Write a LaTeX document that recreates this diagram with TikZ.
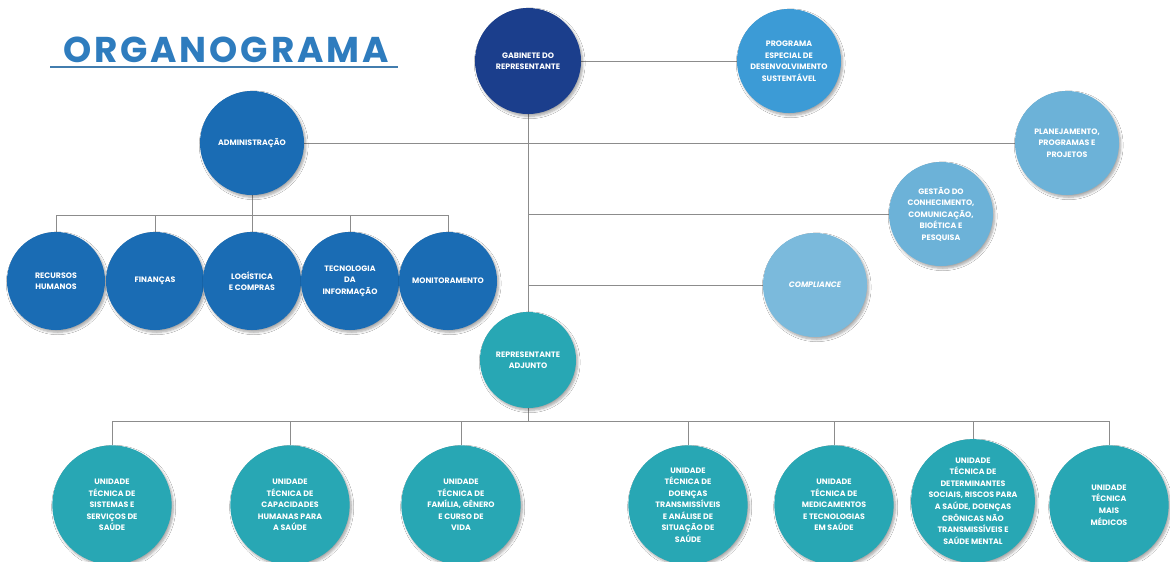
\documentclass[tikz,border=0pt]{standalone}
\usepackage{fontspec}
\newfontfamily\orgfont{Poppins}
\usetikzlibrary{shadows.blur,backgrounds}

\definecolor{navyblue}{RGB}{27,62,140}
\definecolor{midblue}{RGB}{26,108,180}
\definecolor{skyblue}{RGB}{60,155,214}
\definecolor{paleblue}{RGB}{108,178,216}
\definecolor{tealunit}{RGB}{40,167,180}
\definecolor{titleblue}{RGB}{46,124,190}
\definecolor{linegray}{RGB}{140,140,140}

\tikzset{
  org/.style={circle, inner sep=0pt, text=white, align=center,
    font=\orgfont\bfseries\fontsize{5.6}{8.2}\selectfont,
    blur shadow={shadow xshift=1.2pt, shadow yshift=-1.6pt,
      shadow opacity=35, shadow blur steps=6}},
  gabinete/.style={org, fill=navyblue, minimum size=2.65cm},
  programa/.style={org, fill=skyblue, minimum size=2.6cm},
  admbox/.style={org, fill=midblue, minimum size=2.6cm},
  admunit/.style={org, fill=midblue, minimum size=2.45cm},
  assessoria/.style={org, fill=paleblue, minimum size=2.6cm},
  adjunto/.style={org, fill=tealunit, minimum size=2.4cm},
  unidade/.style={org, fill=tealunit, minimum size=2.98cm},
  link/.style={draw=linegray, line width=0.7pt},
}

\begin{document}
\begin{tikzpicture}[x=0.025cm, y=-0.025cm]
  \useasboundingbox (0,0) rectangle (1170,561);

  % titulo
  \node[anchor=base, text=titleblue,
    font=\orgfont\bfseries\fontsize{25.5}{30}\selectfont\addfontfeatures{LetterSpace=8}]
    (titulo) at (226,62) {ORGANOGRAMA};
  \draw[titleblue!75!gray, line width=1.1pt] (50,67) -- (398,67);

  % topo
  \node[gabinete] (gab) at (528,61) {GABINETE DO\\REPRESENTANTE};
  \node[programa] (prog) at (789,61) {PROGRAMA\\ESPECIAL DE\\DESENVOLVIMENTO\\SUSTENTÁVEL};
  \node[admbox] (adm) at (252,143) {ADMINISTRAÇÃO};
  \node[assessoria] (plan) at (1067,143) {PLANEJAMENTO,\\PROGRAMAS E\\PROJETOS};
  \node[assessoria] (gest) at (941,214) {GESTÃO DO\\CONHECIMENTO,\\COMUNICAÇÃO,\\BIOÉTICA E\\PESQUISA};
  \node[assessoria, fill=paleblue!90!white] (comp) at (815,285) {\itshape COMPLIANCE};
  \node[adjunto] (adj) at (528,360) {REPRESENTANTE\\ADJUNTO};

  % administracao
  \node[admunit] (rh) at (56,281) {RECURSOS\\HUMANOS};
  \node[admunit] (fin) at (155,281) {FINANÇAS};
  \node[admunit] (log) at (252,281) {LOGÍSTICA\\E COMPRAS};
  \node[admunit] (ti) at (350,281) {TECNOLOGIA\\DA\\INFORMAÇÃO};
  \node[admunit] (mon) at (448,281) {MONITORAMENTO};

  % unidades tecnicas
  \node[unidade] (u1) at (112,505) {UNIDADE\\TÉCNICA DE\\SISTEMAS E\\SERVIÇOS DE\\SAÚDE};
  \node[unidade] (u2) at (290,505) {UNIDADE\\TÉCNICA DE\\CAPACIDADES\\HUMANAS PARA\\A SAÚDE};
  \node[unidade] (u3) at (461,505) {UNIDADE\\TÉCNICA DE\\FAMÍLIA, GÊNERO\\E CURSO DE\\VIDA};
  \node[unidade] (u4) at (688,505) {UNIDADE\\TÉCNICA DE\\DOENÇAS\\TRANSMISSÍVEIS\\E ANÁLISE DE\\SITUAÇÃO DE\\SAÚDE};
  \node[unidade] (u5) at (834,505) {UNIDADE\\TÉCNICA DE\\MEDICAMENTOS\\E TECNOLOGIAS\\EM SAÚDE};
  \node[unidade] (u6) at (973,501) {UNIDADE\\TÉCNICA DE\\DETERMINANTES\\SOCIAIS, RISCOS PARA\\A SAÚDE, DOENÇAS\\CRÔNICAS NÃO\\TRANSMISSÍVEIS E\\SAÚDE MENTAL};
  \node[unidade] (u7) at (1109,505) {UNIDADE\\TÉCNICA\\MAIS\\MÉDICOS};

  \coordinate (admbar) at (252,215);
  \coordinate (unbar) at (528,421);

  % ligacoes
  \begin{scope}[on background layer]
    \fill[white] (0,0) rectangle (1170,561);
    \draw[link] (gab) -- (prog);
    \draw[link] (gab) -- (adj);
    \draw[link] (adm) -- (plan);
    \draw[link] (gab |- gest) -- (gest);
    \draw[link] (gab |- comp) -- (comp);
    \draw[link] (adm) -- (admbar);
    \draw[link] (rh |- admbar) -- (mon |- admbar);
    \foreach \n in {rh,fin,log,ti,mon}
      \draw[link] (\n |- admbar) -- (\n);
    \draw[link] (adj) -- (unbar);
    \draw[link] (u1 |- unbar) -- (u7 |- unbar);
    \foreach \n in {u1,u2,u3,u4,u5,u6,u7}
      \draw[link] (\n |- unbar) -- (\n);
  \end{scope}
\end{tikzpicture}
\end{document}
